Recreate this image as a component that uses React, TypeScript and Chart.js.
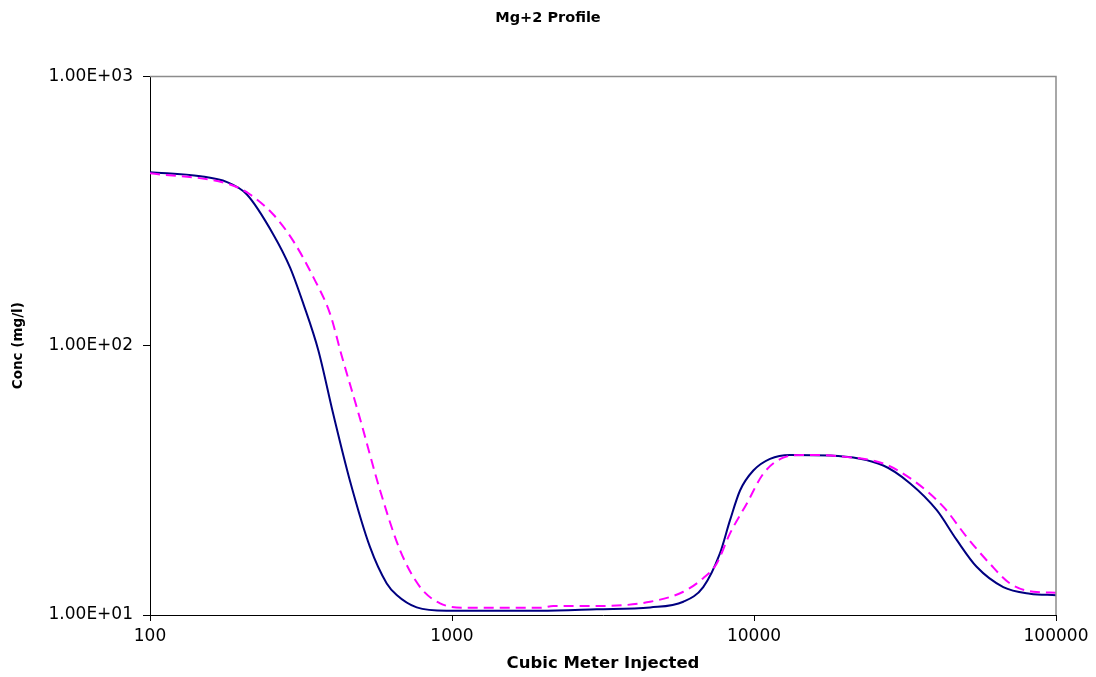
import React, { useEffect, useRef } from "react";
import { Chart, registerables } from "chart.js";

Chart.register(...registerables);

const chartTitle = "Mg+2 Profile";
const xAxisTitle = "Cubic Meter Injected";
const yAxisTitle = "Conc (mg/l)";

const xTickValues = [100, 1000, 10000, 100000];
const xTickLabels = ["100", "1000", "10000", "100000"];
const yTickValues = [10, 100, 1000];
const yTickLabels = ["1.00E+01", "1.00E+02", "1.00E+03"];

// Solid navy series
const blueX = [100, 147, 180, 209, 256, 291, 322, 361, 404, 459, 535, 608, 656, 764, 959, 1954, 3013, 4530, 5834, 6790, 7707, 8330, 8990, 9950, 11300, 13160, 17850, 26800, 32900, 40300, 46900, 54600, 66900, 82000, 100000];
const blueY = [441, 426, 405, 365, 259, 195, 143, 96, 56, 31.6, 17.9, 13.1, 11.86, 10.67, 10.37, 10.37, 10.5, 10.67, 11.2, 12.7, 16.9, 22.5, 29.0, 34.4, 38.0, 39.3, 39.1, 35.9, 30.8, 24.5, 19.0, 15.1, 12.7, 12.0, 11.85];

// Dashed magenta series
const pinkX = [100, 184, 214, 256, 298, 348, 395, 431, 495, 578, 673, 784, 913, 1117, 1954, 2163, 3090, 4530, 5834, 6790, 7520, 8330, 9460, 10740, 12500, 14550, 18800, 26800, 33700, 42400, 50600, 60400, 70400, 84100, 100000];
const pinkY = [437, 397, 365, 307, 245, 179, 131, 92, 54, 29.0, 17.4, 12.7, 11.05, 10.64, 10.64, 10.8, 10.8, 11.2, 12.2, 13.7, 15.5, 20.1, 25.9, 33.5, 38.4, 39.3, 38.9, 36.5, 31.6, 25.2, 19.5, 15.5, 13.1, 12.2, 12.1];

const framePlugin = {
  id: "frame",
  afterDraw(chart: any) {
    const { ctx, chartArea } = chart;
    const { left, top, right, bottom } = chartArea;
    ctx.save();
    ctx.strokeStyle = "#8c8c8c";
    ctx.lineWidth = 1.5;
    ctx.beginPath();
    ctx.moveTo(left, top);
    ctx.lineTo(right, top);
    ctx.lineTo(right, bottom);
    ctx.stroke();
    ctx.restore();
  },
};

export default function App() {
  const canvasRef = useRef<HTMLCanvasElement | null>(null);

  useEffect(() => {
    if (!canvasRef.current) return;
    const chart = new Chart(canvasRef.current, {
      type: "line",
      data: {
        datasets: [
          {
            label: "Measured",
            data: pinkX.map((x, i) => ({ x, y: pinkY[i] })),
            borderColor: "#ff00ff",
            borderWidth: 2,
            borderDash: [10, 6],
            pointRadius: 0,
            fill: false,
            cubicInterpolationMode: "monotone",
            yAxisID: "y",
          },
          {
            label: "Simulated",
            data: blueX.map((x, i) => ({ x, y: blueY[i] })),
            borderColor: "#000080",
            borderWidth: 2,
            pointRadius: 0,
            fill: false,
            cubicInterpolationMode: "monotone",
            yAxisID: "y",
          },
        ],
      },
      options: {
        animation: false,
        responsive: false,
        devicePixelRatio: 1,
        layout: { padding: { left: 0, right: 0, top: 0, bottom: 0 } },
        plugins: {
          legend: { display: false },
          tooltip: { enabled: false },
          title: {
            display: true,
            text: chartTitle,
            color: "#000",
            font: { family: "DejaVu Sans", size: 14.5, weight: "bold" },
            padding: { top: 10, bottom: 49 },
          },
        },
        scales: {
          x: {
            type: "logarithmic",
            min: 100,
            max: 100000,
            afterBuildTicks: (scale: any) => {
              scale.ticks = xTickValues.map((v) => ({ value: v }));
            },
            afterFit: (scale: any) => {
              scale.height = 62;
            },
            ticks: {
              autoSkip: false,
              maxRotation: 0,
              color: "#000",
              padding: 5,
              font: { family: "DejaVu Sans", size: 17 },
              callback: (value: any) => {
                const idx = xTickValues.indexOf(Number(value));
                return idx >= 0 ? xTickLabels[idx] : "";
              },
            },
            grid: {
              display: true,
              drawOnChartArea: false,
              drawTicks: true,
              tickLength: 6,
              tickColor: "#000",
              color: "#000",
            },
            border: { display: true, color: "#000", width: 1 },
            title: {
              display: true,
              text: xAxisTitle,
              color: "#000",
              font: { family: "DejaVu Sans", size: 16.5, weight: "bold" },
              padding: { top: 0, bottom: 3 },
            },
          },
          y: {
            type: "logarithmic",
            position: "left",
            min: 10,
            max: 1000,
            afterBuildTicks: (scale: any) => {
              scale.ticks = yTickValues.map((v) => ({ value: v }));
            },
            afterFit: (scale: any) => {
              scale.width = 150;
            },
            ticks: {
              autoSkip: false,
              color: "#000",
              padding: 10,
              font: { family: "DejaVu Sans", size: 17 },
              callback: (value: any) => {
                const idx = yTickValues.indexOf(Number(value));
                return idx >= 0 ? yTickLabels[idx] : "";
              },
            },
            grid: {
              display: true,
              drawOnChartArea: false,
              drawTicks: true,
              tickLength: 7,
              tickColor: "#000",
              color: "#000",
            },
            border: { display: true, color: "#000", width: 1 },
            title: {
              display: true,
              text: yAxisTitle,
              color: "#000",
              font: { family: "DejaVu Sans", size: 13.5, weight: "bold" },
              padding: { top: 10, bottom: 0 },
            },
          },
          spacer: {
            type: "linear",
            position: "right",
            display: true,
            afterFit: (scale: any) => {
              scale.width = 40;
            },
            grid: { display: false },
            border: { display: false },
            ticks: { display: false },
          },
        },
      },
      plugins: [framePlugin],
    } as any);
    return () => chart.destroy();
  }, []);

  return (
    <div style={{ position: "absolute", left: 0, top: 0, width: 1096, height: 677, background: "#fff" }}>
      <canvas ref={canvasRef} width={1096} height={677} style={{ display: "block" }} />
    </div>
  );
}
